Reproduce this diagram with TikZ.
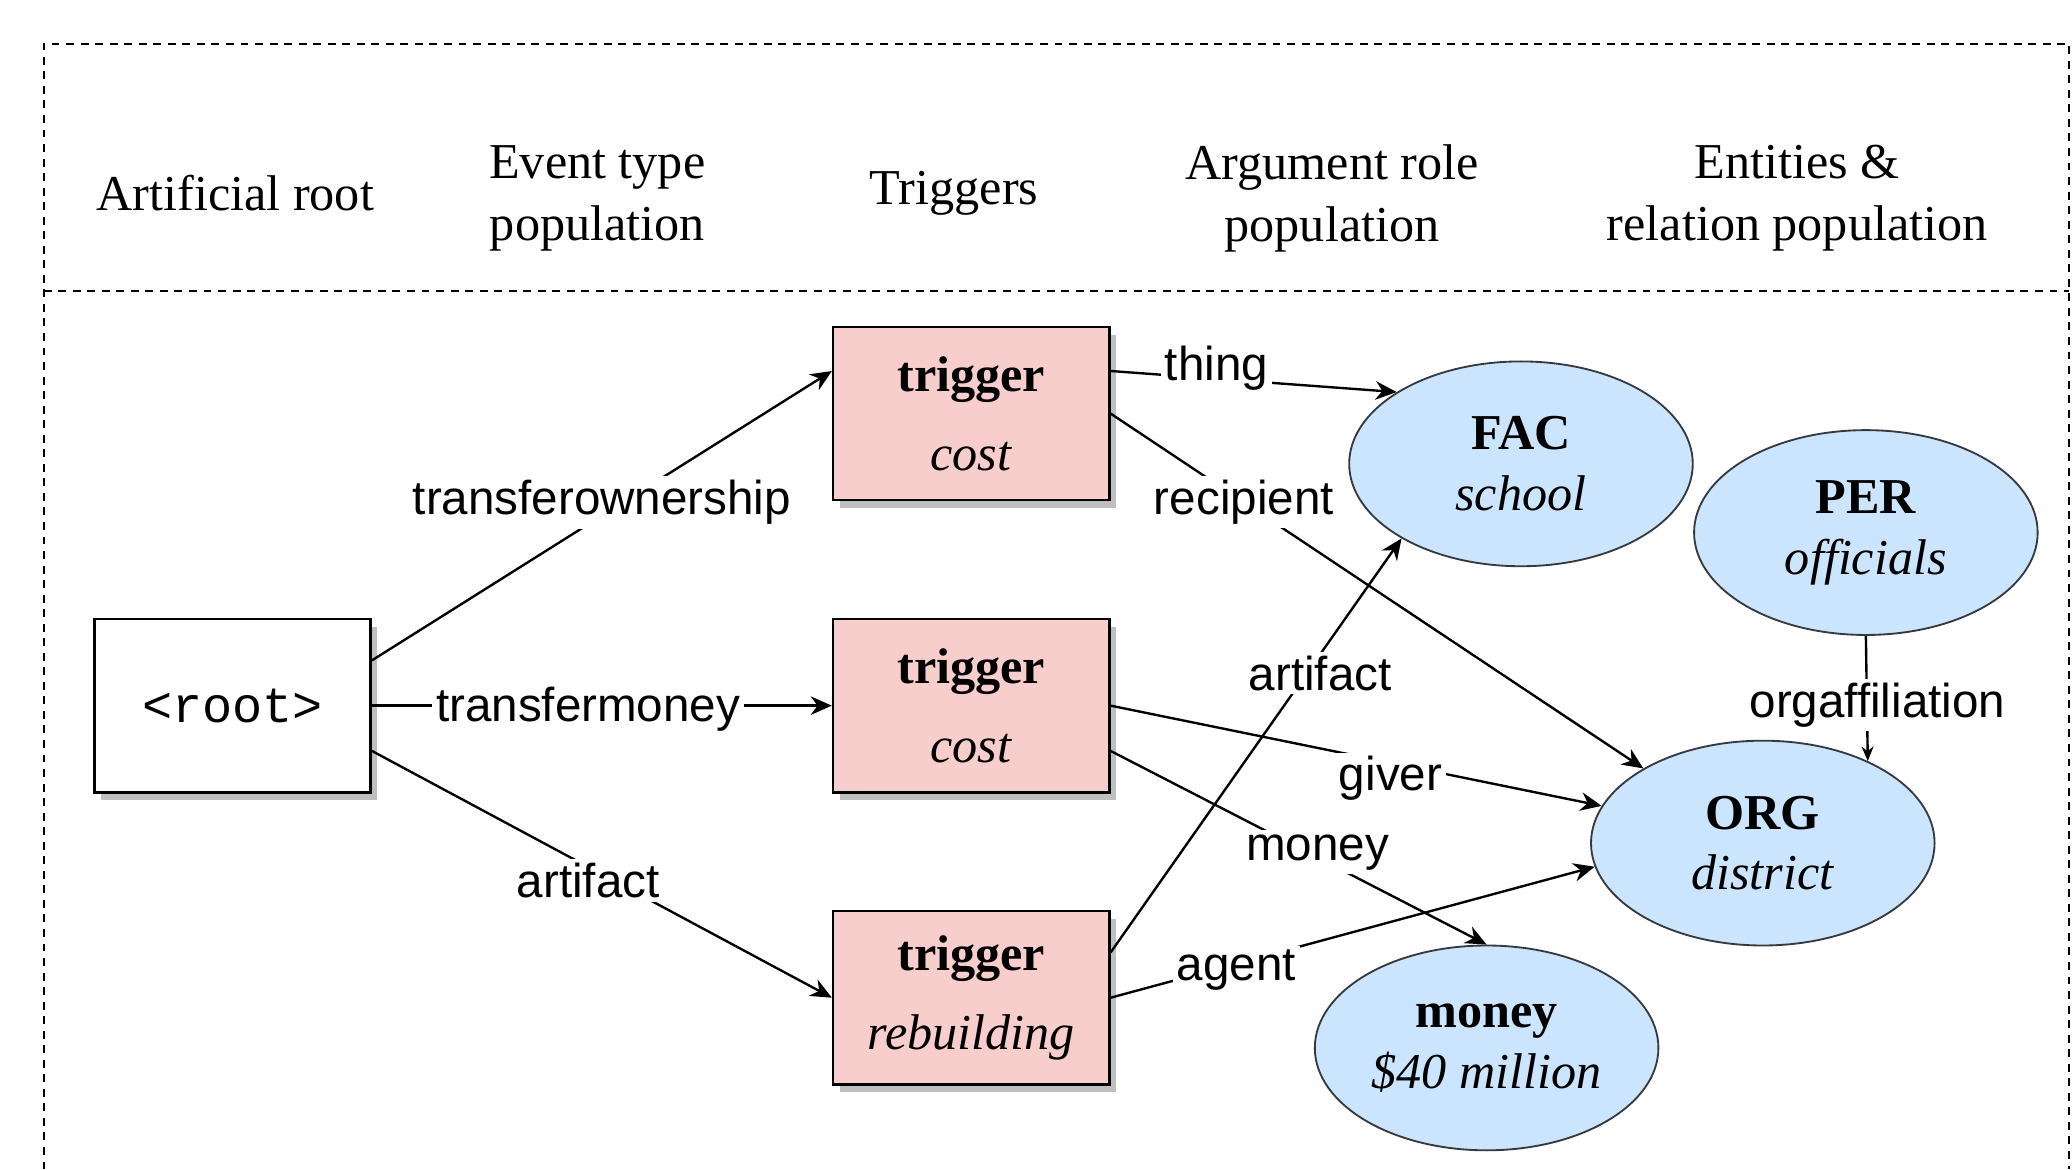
\documentclass[tikz,border=0pt]{standalone}
\usepackage{fontspec}
\setmainfont{Liberation Serif}
\setsansfont{Liberation Sans}
\setmonofont{Liberation Mono}
\usetikzlibrary{arrows.meta, shapes.geometric, shadows}

\definecolor{triggerred}{HTML}{F8CECC}
\definecolor{entityblue}{HTML}{CCE5FF}
\definecolor{entityborder}{HTML}{36393D}

\begin{document}
\begin{tikzpicture} [
		x = 0.5pt,
		y = -0.5pt,
		header/.style = {
			align = center,
			font = \fontsize{19}{23.5}\selectfont,
		},
		box/.style = {
			rectangle,
			draw = black,
			line width = 1pt,
			minimum width = 104.5pt,
			minimum height = 65.5pt,
			inner sep = 0pt,
			align = center,
			drop shadow = {shadow xshift=2.5pt, shadow yshift=-3pt, fill=black!25, opacity=1},
		},
		root-box/.style = {
			box,
			fill = white,
			font = \ttfamily\fontsize{19}{23}\selectfont,
		},
		trigger-box/.style = {
			box,
			fill = triggerred,
			font = \fontsize{19}{24}\selectfont,
		},
		entity/.style = {
			ellipse,
			draw = entityborder,
			line width = 0.7pt,
			fill = entityblue,
			minimum width = 130pt,
			minimum height = 77.5pt,
			inner sep = 0pt,
			align = center,
			font = \fontsize{19}{23}\selectfont,
		},
		frame/.style = {
			draw = black,
			line width = 0.7pt,
			dash pattern = on 3pt off 2.5pt,
		},
		line/.style = {
			draw,
			line width = 0.9pt,
			-{Stealth[length = 8pt, width = 7pt]},
		},
		line-caption/.style = {
			font = \sffamily\fontsize{18}{20}\selectfont,
			fill = white,
			inner sep = 1.5pt,
		},
	]

	\useasboundingbox (0, 0) rectangle (1568, 885);

	% header row
	\draw[frame] (33, 885) -- (33, 33) -- (1566, 33) -- (1566, 885);
	\draw[frame] (33, 220) -- (1566, 220);

	\node[header] (hRoot) at (178, 146) {Artificial root};
	\node[header] (hEvent) at (452, 150) {Event type\\population};
	\node[header] (hTrigger) at (722, 146) {Triggers};
	\node[header] (hRole) at (1008, 150) {Argument role\\population};
	\node[header] (hEntity) at (1360, 150) {Entities \&\\relation population};

	% tree
	\node[root-box] (root) at (176, 534) {<root>};

	\node[trigger-box] (trigOwner) at (735, 313) {
		\textbf{trigger}\\[6pt]\textit{cost}
	};
	\node[trigger-box] (trigMoney) at (735, 534) {
		\textbf{trigger}\\[6pt]\textit{cost}
	};
	\node[trigger-box] (trigRebuild) at (735, 755) {
		\textbf{trigger}\\[6pt]\textit{rebuilding}
	};

	\node[entity] (fac) at (1151, 351) {
		\textbf{FAC}\\\textit{school}
	};
	\node[entity] (per) at (1412, 403) {
		\textbf{PER}\\\textit{officials}
	};
	\node[entity] (org) at (1334, 638) {
		\textbf{ORG}\\\textit{district}
	};
	\node[entity] (money) at (1125, 793) {
		\textbf{money}\\\textit{\$40 million}
	};

	\begin{scope} [
		every path/.style = line,
		every node/.style = line-caption
		]
		\path (root.18) -- node[pos = 0.5, yshift = 5pt] {transferownership} (trigOwner.163);
		\path (root.east) -- node[pos = 0.47, yshift = -1.5pt] {transfermoney} (trigMoney.west);
		\path (root.-18) -- node[pos = 0.47, yshift = -5pt] {artifact} (trigRebuild.west);

		\path (trigOwner.17) -- node[pos = 0.37, yshift = 4pt] {thing} (fac.150);
		\path (trigOwner.east) -- node[pos = 0.25] {recipient} (org.148);

		\path (trigMoney.east) -- node[pos = 0.57, yshift = -6pt] {giver} (org.167);
		\path (trigMoney.-18) -- node[pos = 0.55, yshift = 2pt] {money} (money.north);

		\path (trigRebuild.18) -- node[pos = 0.675, xshift = 5pt] {artifact} (fac.212);
		\path (trigRebuild.east) -- node[pos = 0.26, yshift = -2.5pt] {agent} (org.188);

		\path[-{Stealth[length = 5.5pt, width = 4.5pt]}] (per.south) -- node[pos = 0.52, xshift = 4pt, yshift = -1.5pt] {orgaffiliation} (org.38);
	\end{scope}
\end{tikzpicture}
\end{document}
